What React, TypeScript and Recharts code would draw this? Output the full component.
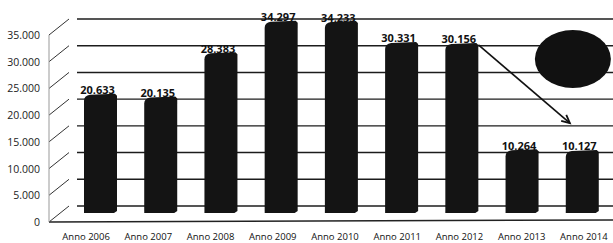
import React from 'react';
import { BarChart, Bar, XAxis, YAxis, CartesianGrid, LabelList, ReferenceLine, ReferenceDot } from 'recharts';

const years = ['Anno 2006', 'Anno 2007', 'Anno 2008', 'Anno 2009', 'Anno 2010', 'Anno 2011', 'Anno 2012', 'Anno 2013', 'Anno 2014'];
const values = [20633, 20135, 28383, 34297, 34233, 30331, 30156, 10264, 10127];
const yTicks = [0, 5000, 10000, 15000, 20000, 25000, 30000, 35000];

// arrow from the 2012 bar down to the 2014 bar, and the blob top right
const arrowFrom = { x: 'Anno 2012', y: 30156 };
const arrowTo = { x: 'Anno 2014', y: 15500 };
const blob = { x: 'Anno 2014', y: 27500 };

const data = years.map((year, i) => ({ year, value: values[i] }));

// 3D-ish offsets: front face sits lower/left of the back wall
const FRONT_DX = -20;
const FRONT_DY = 16;
const BAR_DX = -7;
const BAR_DY = 7;
const TOP = 19;
const HEIGHT = 243;
const BOTTOM_AXIS = 30;
const BOTTOM_MARGIN = 7;
const PLOT_H = HEIGHT - TOP - BOTTOM_AXIS - BOTTOM_MARGIN;
const STEP = PLOT_H / (yTicks.length - 1);

const fmt = (v: number) => v.toLocaleString('it-IT');

const BarShape = (props: any) => {
  const { x, y, width, height } = props;
  const l = x + BAR_DX;
  const r = l + width;
  const t = y;
  const b = y + height + BAR_DY;
  const d = `M${l},${b} L${l},${t + 5} Q${l},${t} ${l + 6},${t - 1} L${r - 2},${t - 2} L${r},${t} L${r},${b - 2} L${r - 3},${b} Z`;
  return <path d={d} fill="#141414" />;
};

const YTick = (props: any) => {
  const { x, y, payload } = props;
  const fx = x + FRONT_DX;
  const fy = y + FRONT_DY;
  return (
    <g>
      <text x={fx - 9} y={fy} textAnchor="end" dominantBaseline="central" fontSize={10.5} fill="#222" fontFamily="Open Sans">
        {fmt(payload.value)}
      </text>
      <line x1={fx} y1={fy} x2={x} y2={y} stroke="#333" strokeWidth={1} />
      {payload.value > 0 && <line x1={fx} y1={fy} x2={fx} y2={fy + STEP} stroke="#999" strokeWidth={1} />}
      {payload.value === 0 && <line x1={fx} y1={fy} x2={613} y2={fy - 2} stroke="#222" strokeWidth={1.5} />}
    </g>
  );
};

// labels sit on the front edge, so they drift a little with the perspective
const XTick = (props: any) => {
  const { x, y, payload, index } = props;
  return (
    <text x={x + BAR_DX - 14 + index * 2} y={y + 26} textAnchor="middle" fontSize={9.5} fill="#111" fontFamily="Open Sans">
      {payload.value}
    </text>
  );
};

const ValueLabel = (props: any) => {
  const { x, y, width, value } = props;
  return (
    <text x={x + BAR_DX + width / 2 - 3} y={y - 6} textAnchor="middle" dominantBaseline="central" fontSize={11} fontWeight="bold" fill="#111" fontFamily="Open Sans">
      {fmt(value)}
    </text>
  );
};

const ArrowShape = (props: any) => {
  const { x1, y1, x2, y2 } = props;
  const sx = x1 + 10;
  const ex = x2 - 19;
  const ang = Math.atan2(y2 - y1, ex - sx);
  const a1 = ang + Math.PI - 0.45;
  const a2 = ang + Math.PI + 0.45;
  return (
    <g>
      <line x1={sx} y1={y1} x2={ex} y2={y2} stroke="#111" strokeWidth={1.6} />
      <polyline
        points={`${ex + 9 * Math.cos(a1)},${y2 + 9 * Math.sin(a1)} ${ex},${y2} ${ex + 9 * Math.cos(a2)},${y2 + 9 * Math.sin(a2)}`}
        fill="none"
        stroke="#111"
        strokeWidth={1.8}
      />
    </g>
  );
};

const BlobShape = (props: any) => <ellipse cx={props.cx - 16} cy={props.cy} rx={38} ry={29} fill="#111" />;

export default function App() {
  return (
    <div style={{ position: 'absolute', left: 0, top: 0, width: 613, height: HEIGHT, overflow: 'hidden', background: '#fff' }}>
      <BarChart width={619} height={HEIGHT} data={data} margin={{ top: TOP, right: 0, bottom: BOTTOM_MARGIN, left: 0 }} barCategoryGap="47%">
        <CartesianGrid horizontal vertical={false} stroke="#1c1c1c" strokeWidth={1.4} />
        <XAxis dataKey="year" axisLine={false} tickLine={false} height={BOTTOM_AXIS} tick={<XTick />} interval={0} />
        <YAxis width={77} domain={[0, 35000]} ticks={yTicks} axisLine={false} tickLine={false} tick={<YTick />} interval={0} />
        <Bar dataKey="value" shape={<BarShape />} barSize={33} isAnimationActive={false}>
          <LabelList dataKey="value" content={<ValueLabel />} />
        </Bar>
        <ReferenceLine segment={[arrowFrom, arrowTo]} shape={<ArrowShape />} ifOverflow="visible" />
        <ReferenceDot x={blob.x} y={blob.y} shape={<BlobShape />} ifOverflow="visible" />
      </BarChart>
    </div>
  );
}
